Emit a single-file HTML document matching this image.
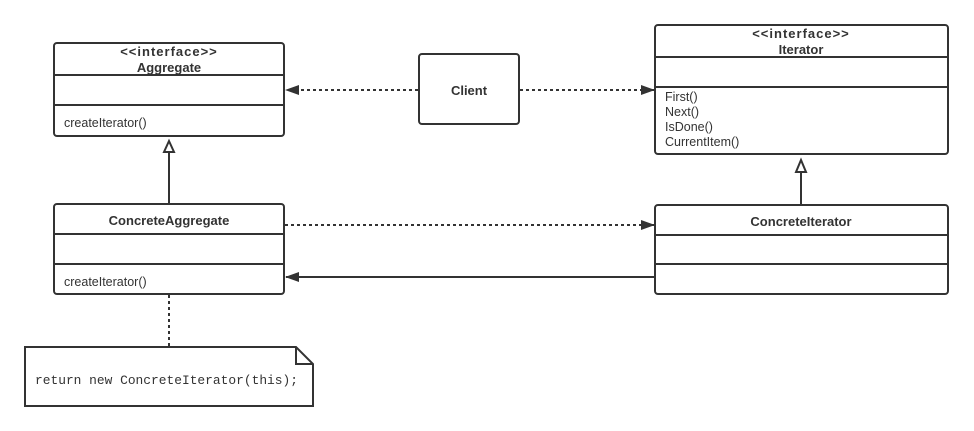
<!DOCTYPE html>
<html><head><meta charset="utf-8"><style>body{margin:0;background:#fff}svg{display:block}</style></head>
<body>
<svg width="974" height="431" viewBox="0 0 974 431" xmlns="http://www.w3.org/2000/svg" font-family="'Liberation Sans', sans-serif" font-size="12" fill="#333">
<defs>
<marker id="fa" markerWidth="14" markerHeight="10" refX="13" refY="5" orient="auto" markerUnits="userSpaceOnUse"><path d="M0,0 L14,5 L0,10 z" fill="#333"/></marker>
</defs>
<g stroke="#333" stroke-width="2" fill="#fff">
<rect x="54" y="43" width="230" height="93" rx="3"/>
<line x1="54" y1="75" x2="284" y2="75"/><line x1="54" y1="105" x2="284" y2="105"/>
<rect x="419" y="54" width="100" height="70" rx="3"/>
<rect x="655" y="25" width="293" height="129" rx="3"/>
<line x1="655" y1="57" x2="948" y2="57"/><line x1="655" y1="87" x2="948" y2="87"/>
<rect x="54" y="204" width="230" height="90" rx="3"/>
<line x1="54" y1="234" x2="284" y2="234"/><line x1="54" y1="264" x2="284" y2="264"/>
<rect x="655" y="205" width="293" height="89" rx="3"/>
<line x1="655" y1="235" x2="948" y2="235"/><line x1="655" y1="264" x2="948" y2="264"/>
<path d="M25,347 H296 L313,364 V406 H25 Z"/>
<path d="M296,347 V364 H313" fill="none"/>
</g>
<g stroke="#333" stroke-width="2" fill="none">
<line x1="418" y1="90" x2="286" y2="90" stroke-dasharray="3,3" marker-end="url(#fa)"/>
<line x1="520" y1="90" x2="654" y2="90" stroke-dasharray="3,3" marker-end="url(#fa)"/>
<line x1="285" y1="225" x2="654" y2="225" stroke-dasharray="3,3" marker-end="url(#fa)"/>
<line x1="654" y1="277" x2="286" y2="277" marker-end="url(#fa)"/>
<line x1="169" y1="295" x2="169" y2="346" stroke-dasharray="3,3"/>
<line x1="169" y1="204" x2="169" y2="152"/>
<path d="M164,152 L169,141 L174,152 Z" fill="#fff"/>
<line x1="801" y1="205" x2="801" y2="172"/>
<path d="M796,172 L801,160 L806,172 Z" fill="#fff"/>
</g>
<g font-weight="bold" text-anchor="middle" font-size="13">
<text x="169" y="56" letter-spacing="1">&lt;&lt;interface&gt;&gt;</text>
<text x="169" y="72">Aggregate</text>
<text x="469" y="95">Client</text>
<text x="801" y="38" letter-spacing="1">&lt;&lt;interface&gt;&gt;</text>
<text x="801" y="54">Iterator</text>
<text x="169" y="225">ConcreteAggregate</text>
<text x="801" y="226">ConcreteIterator</text>
</g>
<g font-size="12.5">
<text x="64" y="127">createIterator()</text>
<text x="64" y="286">createIterator()</text>
<text x="665" y="101">First()</text>
<text x="665" y="116">Next()</text>
<text x="665" y="131">IsDone()</text>
<text x="665" y="146">CurrentItem()</text>
</g>
<text x="35" y="384" font-family="'Liberation Mono', monospace" font-size="13" textLength="263" lengthAdjust="spacingAndGlyphs">return new ConcreteIterator(this);</text>
</svg>
</body></html>
